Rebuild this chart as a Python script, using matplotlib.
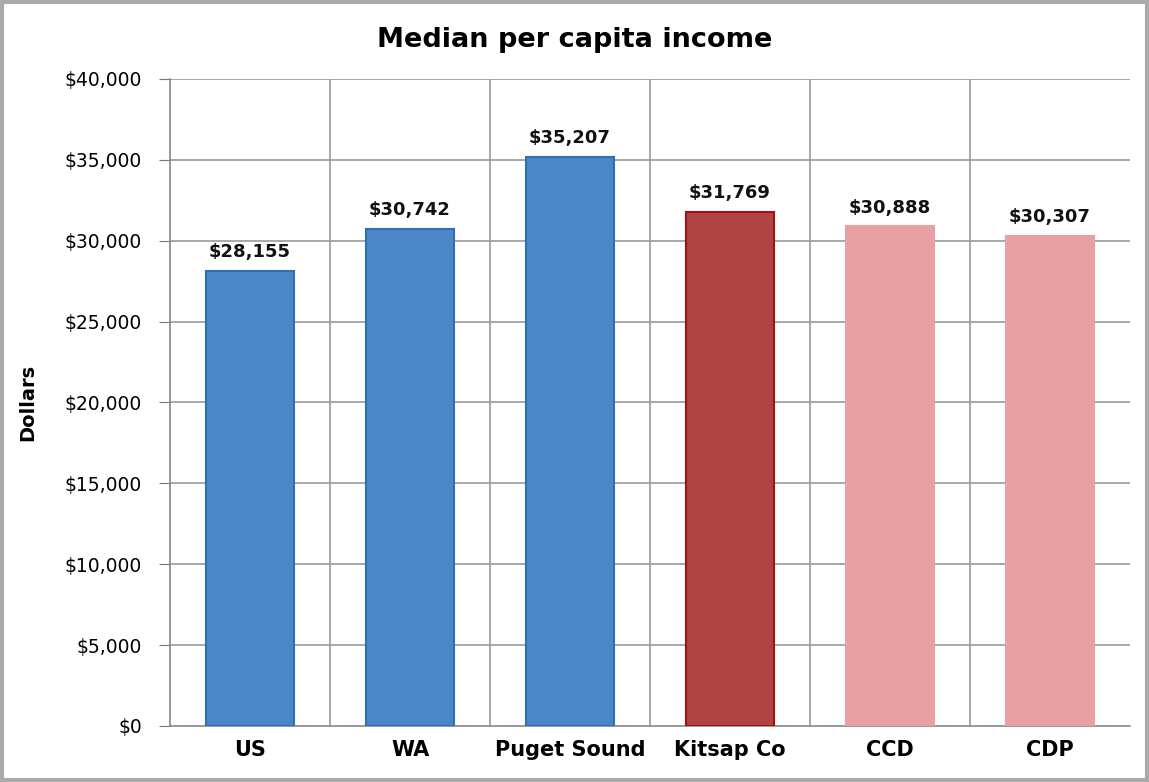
import matplotlib.pyplot as plt
from matplotlib.ticker import FuncFormatter
from matplotlib.patches import Rectangle

regions = ['US', 'WA', 'Puget Sound', 'Kitsap Co', 'CCD', 'CDP']
income = [28155, 30742, 35207, 31769, 30888, 30307]
fill_colors = ['#4a86c8', '#4a86c8', '#4a86c8', '#b04444', '#e8a0a2', '#e8a0a2']
edge_colors = ['#2f6fb5', '#2f6fb5', '#2f6fb5', '#a01212', '#e8a0a2', '#e8a0a2']

fig = plt.figure(figsize=(11.49, 7.82), dpi=100)
ax = fig.add_axes([170/1149, 1 - 726/782, 960/1149, (726-79)/782])

x = range(len(regions))
ax.bar(x, income, width=0.55, color=fill_colors, edgecolor=edge_colors, linewidth=1.5, zorder=3)

# value labels on top of the bars
for i, v in enumerate(income):
    ax.text(i, v + 600, '${:,}'.format(v), ha='center', va='bottom',
            fontsize=13, fontweight='bold', color='#111111', zorder=4)

ax.set_xlim(-0.5, len(regions) - 0.5)
ax.set_ylim(0, 40000)
ax.set_yticks(range(0, 40001, 5000))
ax.yaxis.set_major_formatter(FuncFormatter(lambda v, p: '${:,.0f}'.format(v)))
ax.set_xticks(list(x))
ax.set_xticklabels(regions, fontsize=15, fontweight='bold')
ax.tick_params(axis='y', labelsize=13.5, length=8, color='#777777', pad=12)
ax.tick_params(axis='x', length=0, pad=10)

# grid: horizontal at ticks, vertical at category boundaries
for yv in range(5000, 40001, 5000):
    ax.axhline(yv, color='#999999', linewidth=1.2, zorder=1)
for b in range(1, len(regions)):
    ax.axvline(b - 0.5, color='#999999', linewidth=1.2, zorder=1)

for side in ['top', 'right']:
    ax.spines[side].set_visible(False)
ax.spines['left'].set_color('#888888')
ax.spines['bottom'].set_color('#888888')
ax.spines['left'].set_linewidth(1.2)
ax.spines['bottom'].set_linewidth(1.2)

ax.set_ylabel('Dollars', fontsize=14, fontweight='bold')
ax.yaxis.set_label_coords(-133/960, 0.5)
fig.suptitle('Median per capita income', fontsize=19.5, fontweight='bold', x=0.5, y=1 - 40/782, va='center')

# grey frame around the figure
fig.patches.append(Rectangle((0.002, 0.003), 0.996, 0.994, transform=fig.transFigure,
                             fill=False, edgecolor='#aaaaaa', linewidth=3))

fig.savefig('out.png', dpi=100)
